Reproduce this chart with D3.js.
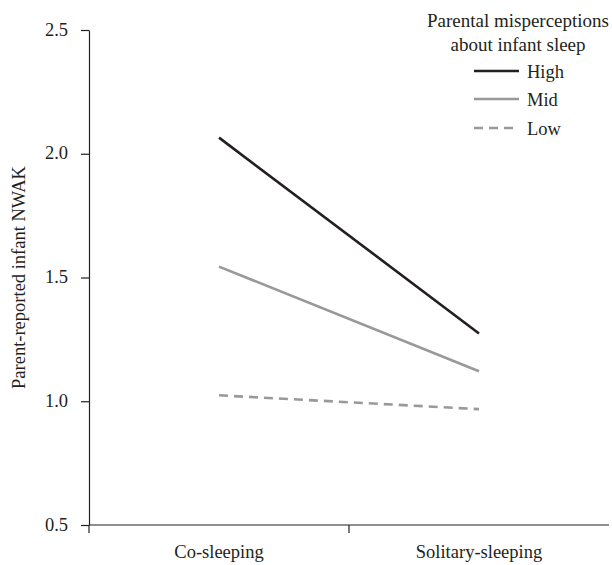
<html>
<head>
<meta charset="utf-8">
<script src="https://cdn.jsdelivr.net/npm/d3@7"></script>
<style>
body {
	margin: 0;
	background: #fff;
}
text {
	font-family: "Liberation Serif", "DejaVu Serif", serif;
	fill: #231f20;
}
</style>
</head>
<body>
<svg id="chart" width="612" height="565"></svg>
<script>
// data
var categories = ["Co-sleeping", "Solitary-sleeping"];
var seriesNames = ["High", "Mid", "Low"];
var high = [2.065, 1.274];
var mid = [1.544, 1.121];
var low = [1.024, 0.968];
var yTicks = [0.5, 1.0, 1.5, 2.0, 2.5];

var series = [
    {name: "High", values: high, color: "#231f20", dash: null},
    {name: "Mid", values: mid, color: "#999999", dash: null},
    {name: "Low", values: low, color: "#999999", dash: "9,6"}
];

var fs = "18.5px";

var svg = d3.select("#chart"),
    margin = {top: 30, left: 89, bottom: 40, right: 3},
    width = +svg.attr("width") - margin.left - margin.right,
    height = 525 - margin.top;

var x = d3.scaleBand()
    .domain(categories)
    .range([margin.left, margin.left + width]);

var y = d3.scaleLinear()
    .domain([0.5, 2.5])
    .range([525, margin.top]);

// y axis
var yAxis = svg.append("g")
    .attr("class", "y-axis")
    .attr("transform", "translate(" + margin.left + ",0)")
    .call(d3.axisLeft(y).tickValues(yTicks).tickFormat(d3.format(".1f")).tickSize(8).tickSizeOuter(0));
yAxis.select(".domain").attr("stroke", "#231f20").attr("stroke-width", 1.2);
yAxis.selectAll(".tick line").attr("stroke", "#231f20").attr("stroke-width", 1.2);
yAxis.selectAll(".tick text")
    .attr("x", -21)
    .attr("dy", "0.28em")
    .style("font-family", "'Liberation Serif', serif")
    .style("font-size", fs)
    .attr("fill", "#231f20");

// x axis with ticks at band edges
var xAxis = svg.append("g")
    .attr("class", "x-axis")
    .attr("transform", "translate(0," + y(0.5) + ")");
xAxis.append("line")
    .attr("x1", margin.left)
    .attr("x2", margin.left + width)
    .attr("stroke", "#231f20")
    .attr("stroke-width", 1.2);
var edges = [margin.left, x(categories[1])];
edges.forEach(function(e){
    xAxis.append("line")
        .attr("x1", e).attr("x2", e)
        .attr("y1", 0).attr("y2", 8)
        .attr("stroke", "#231f20")
        .attr("stroke-width", 1.2);
});
categories.forEach(function(c){
    xAxis.append("text")
        .attr("x", x(c) + x.bandwidth() / 2)
        .attr("y", 33)
        .attr("text-anchor", "middle")
        .style("font-size", fs)
        .text(c);
});

// y label
svg.append("text")
    .attr("transform", "translate(25," + ((margin.top + 525) / 2) + ") rotate(-90)")
    .attr("text-anchor", "middle")
    .style("font-size", fs)
    .text("Parent-reported infant NWAK");

// lines
var line = d3.line()
    .x(function(d, i){ return x(categories[i]) + x.bandwidth() / 2; })
    .y(function(d){ return y(d); });

series.forEach(function(s){
    svg.append("path")
        .datum(s.values)
        .attr("d", line)
        .attr("fill", "none")
        .attr("stroke", s.color)
        .attr("stroke-width", 2.6)
        .attr("stroke-dasharray", s.dash);
});

// legend
svg.append("text")
    .attr("x", 609).attr("y", 27)
    .attr("text-anchor", "end")
    .style("font-size", "19px")
    .text("Parental misperceptions");
svg.append("text")
    .attr("x", 518).attr("y", 51)
    .attr("text-anchor", "middle")
    .style("font-size", "19px")
    .text("about infant sleep");

var legendY = [71, 99, 128];
series.forEach(function(s, i){
    svg.append("line")
        .attr("x1", 474).attr("x2", 519)
        .attr("y1", legendY[i]).attr("y2", legendY[i])
        .attr("stroke", s.color)
        .attr("stroke-width", 2.6)
        .attr("stroke-dasharray", s.dash);
    svg.append("text")
        .attr("x", 527).attr("y", legendY[i] + 7)
        .style("font-size", fs)
        .text(seriesNames[i]);
});
</script>
</body>
</html>
